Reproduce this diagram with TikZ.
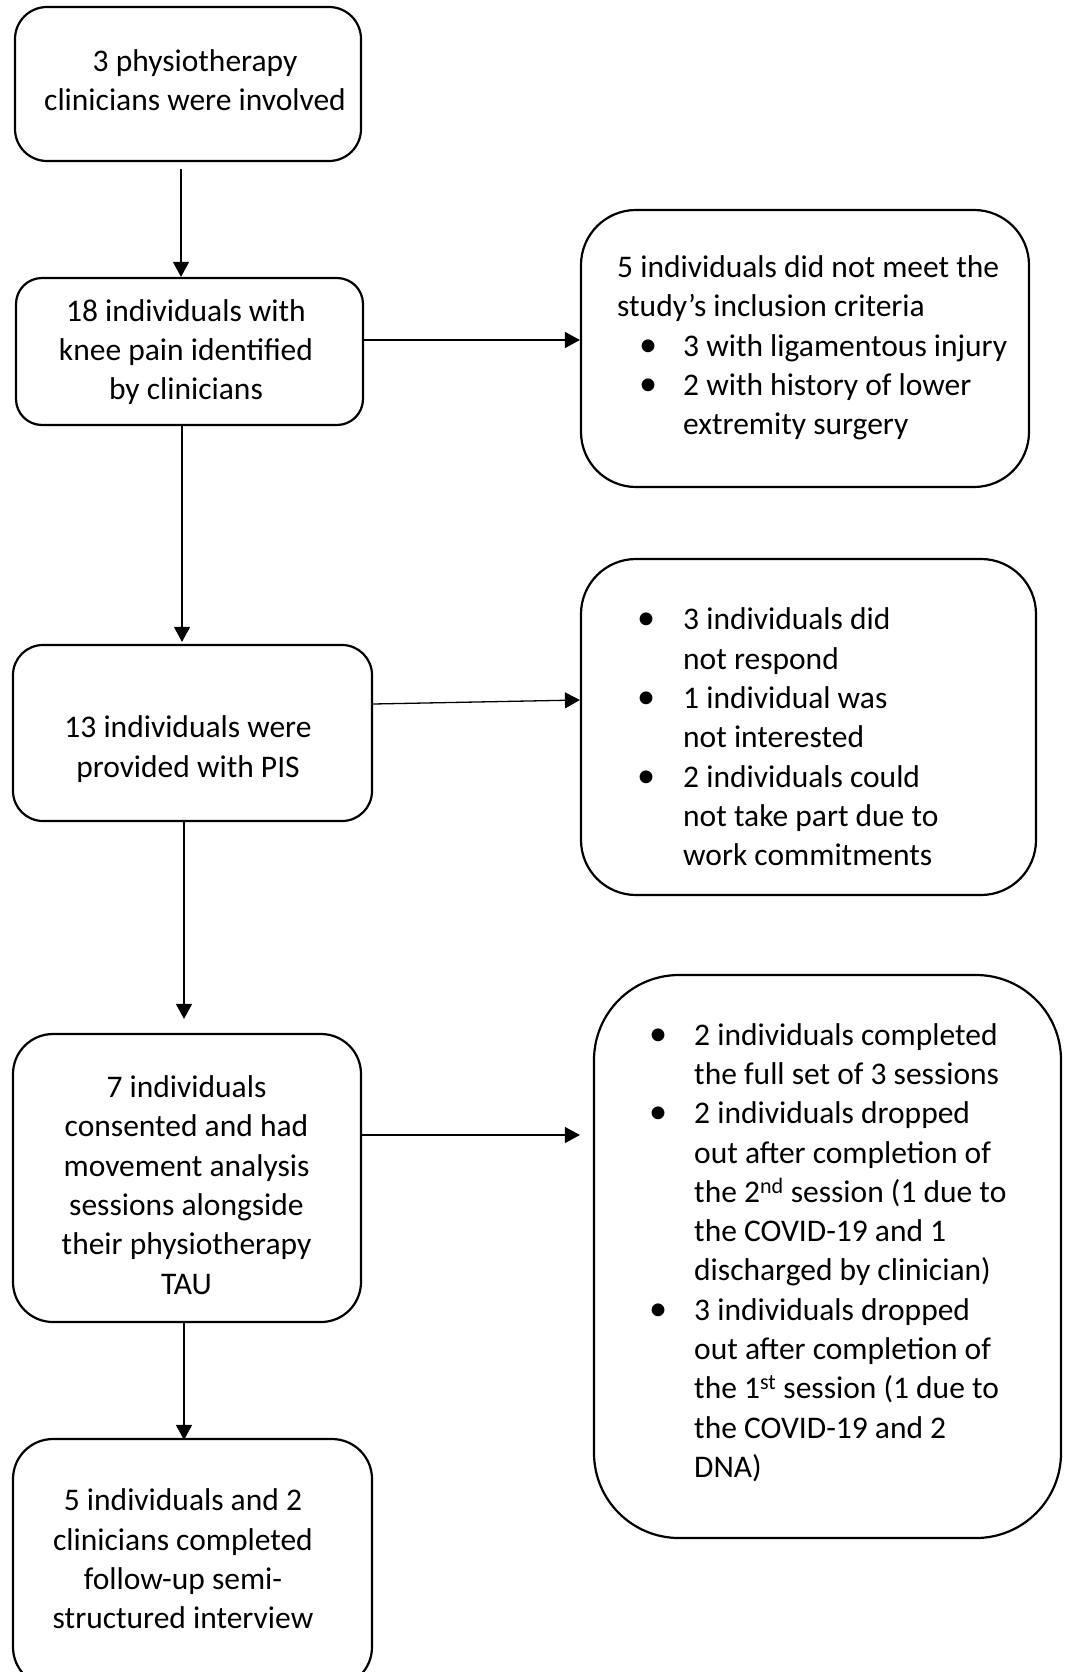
\documentclass[tikz,border=0pt]{standalone}
\usepackage{fontspec}
\setmainfont{Carlito}
\usetikzlibrary{arrows.meta}
% bullet mark of a given width, and the matching indent for wrapped lines
\newcommand\bitem[1][38pt]{\makebox[#1][l]{\hspace*{-7pt}\scalebox{1.15}{•}}}
\newcommand\cont[1][38pt]{\hspace*{#1}}
\begin{document}
\begin{tikzpicture}[x=1pt,y=-1pt,
  box/.style={draw,line width=2.2pt,rectangle,inner sep=0pt},
  txt/.style={inner sep=0pt,font=\fontsize{31.5}{39.3}\selectfont},
  arr/.style={line width=1.3pt,-{Triangle[length=15pt,width=16pt]}}]
\useasboundingbox (0,0) rectangle (1066,1672);
\fill[white] (0,0) rectangle (1066,1672);
\clip (0,0) rectangle (1066,1672);

% left column
\node[box,rounded corners=32pt,minimum width=346pt,minimum height=154pt] (b1) at (188,84) {};
\node[box,rounded corners=26pt,minimum width=347pt,minimum height=147pt] (b2) at (189.5,351.5) {};
\node[box,rounded corners=30pt,minimum width=359pt,minimum height=176pt] (b3) at (192.5,733) {};
\node[box,rounded corners=40pt,minimum width=348pt,minimum height=288pt] (b4) at (187,1178) {};
\node[box,rounded corners=40pt,minimum width=359pt,minimum height=248pt] (b5) at (192.5,1563) {};

% right column
\node[box,rounded corners=55pt,minimum width=448pt,minimum height=277pt] (r1) at (805,348.5) {};
\node[box,rounded corners=55pt,minimum width=455pt,minimum height=336pt] (r2) at (808.5,727) {};
\node[box,rounded corners=85pt,minimum width=467pt,minimum height=563pt] (r3) at (827.5,1256.5) {};

% texts
\node[txt,align=center] (t1) at (195,80) {3 physiotherapy\\ clinicians were involved};
\node[txt,align=center] (t2) at (186,352) {18 individuals with\\knee pain identified\\by clinicians};
\node[txt,align=center] (t3) at (188,749) {13 individuals were\\provided with PIS};
\node[txt,align=center] (t4) at (186.5,1185) {7 individuals\\consented and had\\movement analysis\\sessions alongside\\their physiotherapy\\TAU};
\node[txt,align=center] (t5) at (183,1559) {5 individuals and 2\\clinicians completed\\follow-up semi-\\structured interview};

\node[txt,align=left,anchor=west] (s1) at (617,348) {5 individuals did not meet the\\study’s inclusion criteria\\\cont[29pt]\bitem[37pt]3 with ligamentous injury\\\cont[29pt]\bitem[37pt]2 with history of lower\\\cont[66pt]extremity surgery};
\node[txt,align=left,anchor=west] (s2) at (644,737) {\bitem[39pt]3 individuals did\\\cont[39pt]not respond\\\bitem[39pt]1 individual was\\\cont[39pt]not interested\\\bitem[39pt]2 individuals could\\\cont[39pt]not take part due to\\\cont[39pt]work commitments};
\node[txt,align=left,anchor=west] (s3) at (656,1252.5) {\bitem 2 individuals completed\\\cont the full set of 3 sessions\\\bitem 2 individuals dropped\\\cont out after completion of\\\cont the 2\textsuperscript{nd} session (1 due to\\\cont the COVID-19 and 1\\\cont discharged by clinician)\\\bitem 3 individuals dropped\\\cont out after completion of\\\cont the 1\textsuperscript{st} session (1 due to\\\cont the COVID-19 and 2\\\cont DNA)};

% connectors
\draw[arr] ([xshift=-7pt,yshift=-7pt]b1.south) -- ([xshift=-8.5pt]b2.north);
\draw[arr] ([yshift=11.5pt]b2.east) -- ([yshift=8.5pt]r1.west);
\draw[arr] ([xshift=-7.5pt]b2.south) -- ([xshift=-10.5pt,yshift=2pt]b3.north);
\draw[arr] ([yshift=29pt]b3.east) -- ([yshift=27pt]r2.west);
\draw[arr] ([xshift=-8.5pt]b3.south) -- ([xshift=-3pt,yshift=14pt]b4.north);
\draw[arr] ([yshift=43pt]b4.east) -- ([xshift=-13pt,yshift=121.5pt]r3.west);
\draw[arr] ([xshift=-3pt]b4.south) -- ([xshift=-8.5pt,yshift=-2pt]b5.north);
\end{tikzpicture}
\end{document}
